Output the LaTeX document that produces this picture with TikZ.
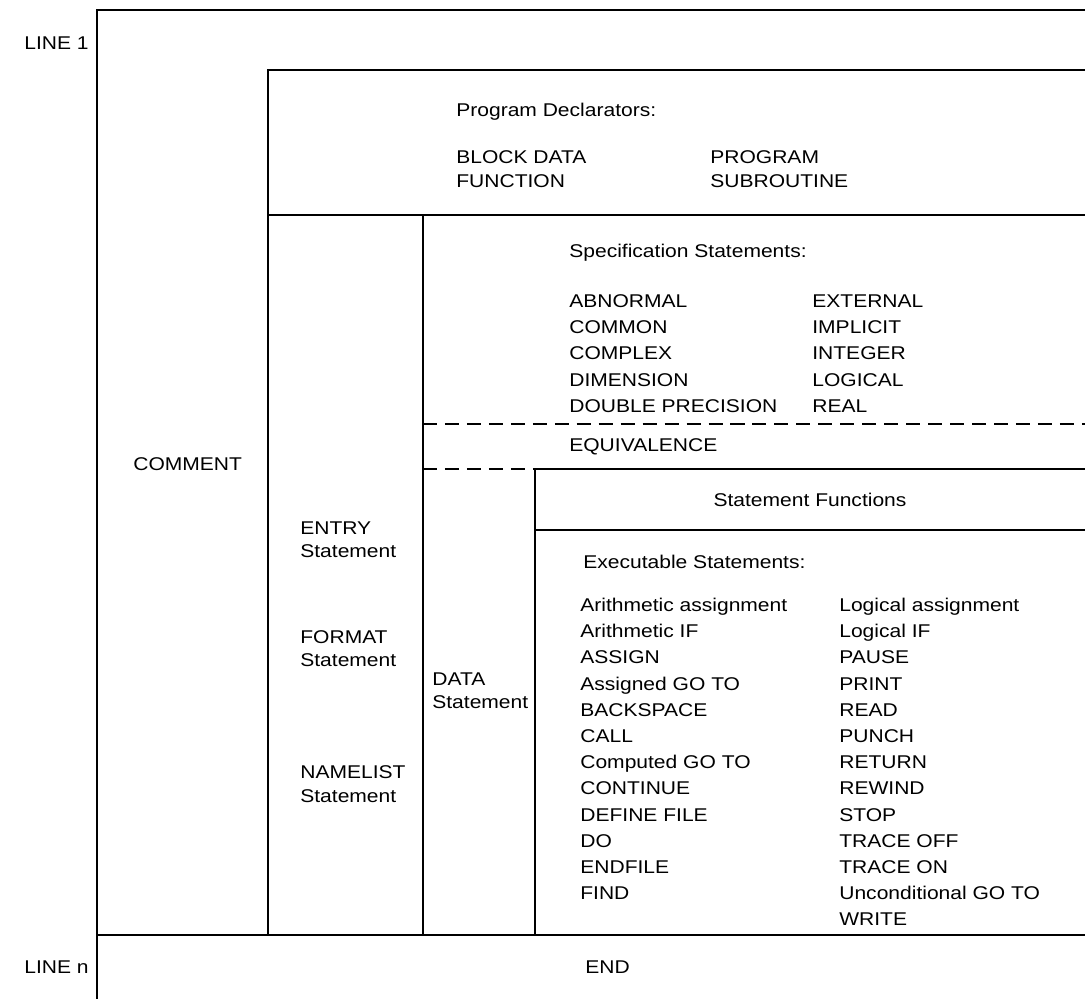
\documentclass[tikz,border=0pt]{standalone}
\usepackage{fontspec}
\setmainfont[FakeStretch=1.14]{Liberation Sans}

\newcommand*{\xright}{1085}
\newcommand*{\yend}{935}
\newcommand*{\rowsep}{26.2}

\begin{document}
\begin{tikzpicture}
[
	x=0.02cm, y=-0.02cm,
	frame/.style={line width=1.1pt},
	dashframe/.style={line width=1.1pt, dash pattern=on 8pt off 4.5pt},
	label/.style={anchor=west, inner sep=0pt, text height=7.5pt, text depth=0pt, font=\fontsize{10.5}{13}\selectfont},
	linelabel/.style={label, anchor=east},
	centerlabel/.style={label, anchor=center}
]
	\useasboundingbox (0,0) rectangle (1085,999);

	% frame
	\draw[frame] (\xright,10) -- (97,10) -- (97,999);
	\draw[frame] (\xright,70) -- (268,70) -- (268,\yend);
	\draw[frame] (268,215) -- (\xright,215);
	\draw[frame] (423,215) -- (423,\yend);
	\draw[dashframe] (423,424) -- (\xright,424);
	\draw[dashframe] (423,469) -- (535,469);
	\draw[frame] (535,469) -- (\xright,469);
	\draw[frame] (535,469) -- (535,\yend);
	\draw[frame] (535,530) -- (\xright,530);
	\draw[frame] (97,\yend) -- (\xright,\yend);

	% line labels
	\node[linelabel] (line1) at (89,43) {LINE 1};
	\node[linelabel] (linen) at (89,967) {LINE n};
	\node[label] (end) at (585,967) {END};

	% left columns
	\node[label] (comment) at (133,464) {COMMENT};
	\node[label] (entry) at (300,528) {ENTRY};
	\node[label] (entrys) at (300,551) {Statement};
	\node[label] (format) at (300,637) {FORMAT};
	\node[label] (formats) at (300,660) {Statement};
	\node[label] (namelist) at (300,772) {NAMELIST};
	\node[label] (namelists) at (300,796) {Statement};
	\node[label] (data) at (432,679) {DATA};
	\node[label] (datas) at (432,702) {Statement};

	% program declarators
	\node[label] (progdecl) at (456,110) {Program Declarators:};
	\node[label] (blockdata) at (456,157) {BLOCK DATA};
	\node[label] (function) at (456,181) {FUNCTION};
	\node[label] (program) at (710,157) {PROGRAM};
	\node[label] (subroutine) at (710,181) {SUBROUTINE};

	% specification statements
	\node[label] (spec) at (569,251) {Specification Statements:};
	\foreach \t [count=\i from 0] in {ABNORMAL,COMMON,COMPLEX,DIMENSION,DOUBLE PRECISION} {
		\node[label] (specl-\i) at (569,{301+\i*\rowsep}) {\t};
	}
	\foreach \t [count=\i from 0] in {EXTERNAL,IMPLICIT,INTEGER,LOGICAL,REAL} {
		\node[label] (specr-\i) at (812,{301+\i*\rowsep}) {\t};
	}
	\node[label] (equiv) at (569,445) {EQUIVALENCE};

	% statement functions
	\node[centerlabel] (stmtfunc) at (810,500) {Statement Functions};

	% executable statements
	\node[label] (exec) at (583,562) {Executable Statements:};
	\foreach \t [count=\i from 0] in {Arithmetic assignment,Arithmetic IF,ASSIGN,Assigned GO TO,BACKSPACE,CALL,Computed GO TO,CONTINUE,DEFINE FILE,DO,ENDFILE,FIND} {
		\node[label] (execl-\i) at (580,{605+\i*\rowsep}) {\t};
	}
	\foreach \t [count=\i from 0] in {Logical assignment,Logical IF,PAUSE,PRINT,READ,PUNCH,RETURN,REWIND,STOP,TRACE OFF,TRACE ON,Unconditional GO TO,WRITE} {
		\node[label] (execr-\i) at (839,{605+\i*\rowsep}) {\t};
	}

\end{tikzpicture}
\end{document}
